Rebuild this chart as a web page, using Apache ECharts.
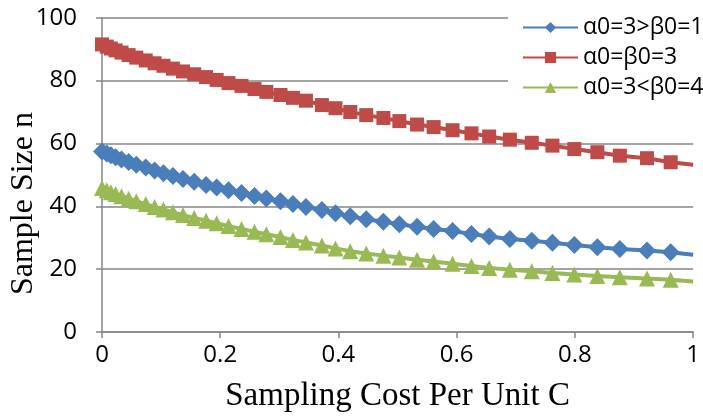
<!DOCTYPE html>
<html>
<head>
<meta charset="utf-8">
<script src="https://cdn.jsdelivr.net/npm/echarts@6/dist/echarts.min.js"></script>
<style>html,body{margin:0;padding:0;background:#fff}#c{width:703px;height:418px}</style>
</head>
<body>
<div id="c"></div>
<script>
// Sampling cost per unit C (x) at each plotted point; last point lies on the axis end (no marker)
var costC = [0, 0.008, 0.015, 0.023, 0.033, 0.045, 0.058, 0.074, 0.089, 0.104, 0.120, 0.137, 0.156, 0.176, 0.194, 0.214, 0.236, 0.258, 0.278, 0.302, 0.323, 0.345, 0.372, 0.395, 0.420, 0.447, 0.476, 0.503, 0.533, 0.561, 0.593, 0.625, 0.655, 0.690, 0.727, 0.762, 0.799, 0.838, 0.876, 0.922, 0.962, 1.0];
var nGreater = [57.4, 56.8, 56.2, 55.6, 54.9, 54.1, 53.2, 52.3, 51.4, 50.5, 49.6, 48.7, 47.8, 46.8, 46.0, 45.1, 44.2, 43.3, 42.5, 41.6, 40.7, 39.8, 38.8, 37.8, 36.8, 35.9, 35.1, 34.3, 33.5, 32.8, 32.1, 31.2, 30.4, 29.6, 29.0, 28.4, 27.7, 27.0, 26.4, 25.9, 25.4, 24.6];
var nEqual = [91.5, 90.8, 90.2, 89.6, 88.9, 88.1, 87.3, 86.4, 85.5, 84.7, 83.8, 82.9, 82.0, 81.1, 80.2, 79.2, 78.3, 77.3, 76.4, 75.4, 74.5, 73.6, 72.2, 71.2, 70.0, 69.0, 68.1, 67.1, 66.0, 65.2, 64.2, 63.2, 62.2, 61.2, 60.2, 59.3, 58.2, 57.2, 56.1, 55.3, 54.0, 53.2];
var nLess = [45.8, 45.1, 44.5, 43.9, 43.2, 42.4, 41.6, 40.7, 39.8, 39.0, 38.1, 37.2, 36.3, 35.4, 34.6, 33.7, 32.8, 31.9, 31.1, 30.2, 29.3, 28.5, 27.5, 26.6, 25.7, 25.0, 24.3, 23.7, 23.0, 22.4, 21.7, 21.0, 20.4, 19.8, 19.3, 18.8, 18.3, 17.8, 17.4, 17.0, 16.6, 16.1];
var seriesNames = ['α0=3>β0=1', 'α0=β0=3', 'α0=3<β0=4'];
var xTitle = 'Sampling Cost Per Unit C';
var yTitle = 'Sample Size n';

function pairs(ys) {
  return ys.map(function (y, i) {
    var p = { value: [costC[i], y] };
    if (i === ys.length - 1) { p.symbol = 'none'; }
    return p;
  });
}
var colors = ['#4A7EBB', '#BE4B48', '#98B954'];
var symbols = ['diamond', 'rect', 'triangle'];
var sizes = [18, 14, 16];
var allData = [nGreater, nEqual, nLess];
var gray = '#868686';
var sans = '"Open Sans", "Liberation Sans", sans-serif';
var serif = '"Liberation Serif", "DejaVu Serif", serif';

var chart = echarts.init(document.getElementById('c'), null, { renderer: 'canvas' });
chart.setOption({
  animation: false,
  backgroundColor: '#fff',
  color: colors,
  grid: { left: 102, right: 6, top: 17.7, bottom: 83.7, containLabel: false },
  graphic: [{
    type: 'text', left: 8, top: 112,
    style: { text: yTitle, font: '32px ' + serif, fill: '#000' },
    rotation: Math.PI / 2
  }],
  legend: {
    orient: 'vertical',
    left: 508, top: 11,
    padding: [5, 4, 5, 14],
    backgroundColor: '#fff',
    itemWidth: 55, itemHeight: 14, itemGap: 7,
    textStyle: { fontFamily: sans, fontSize: 23, color: '#000' },
    data: seriesNames
  },
  xAxis: {
    type: 'value', min: 0, max: 1, interval: 0.2,
    name: xTitle, nameLocation: 'middle', nameGap: 48,
    nameTextStyle: { fontFamily: serif, fontSize: 33, color: '#000' },
    axisLine: { show: true, lineStyle: { color: gray, width: 1.5 } },
    axisTick: { show: true, length: 6, lineStyle: { color: gray, width: 1.5 } },
    axisLabel: { fontFamily: sans, fontSize: 24, color: '#000', margin: 11 },
    splitLine: { show: false }
  },
  yAxis: {
    type: 'value', min: 0, max: 100, interval: 20,
    axisLine: { show: true, lineStyle: { color: gray, width: 1.5 } },
    axisTick: { show: true, length: 6, lineStyle: { color: gray, width: 1.5 } },
    axisLabel: { fontFamily: sans, fontSize: 24, color: '#000', margin: 25 },
    splitLine: { show: true, lineStyle: { color: gray, width: 1.5 } }
  },
  series: seriesNames.map(function (nm, k) {
    return {
      name: nm, type: 'line',
      data: pairs(allData[k]),
      symbol: symbols[k], symbolSize: sizes[k], showAllSymbol: true,
      lineStyle: { width: 4, color: colors[k] },
      itemStyle: { color: colors[k] },
      z: 2 + k
    };
  })
});
</script>
</body>
</html>
